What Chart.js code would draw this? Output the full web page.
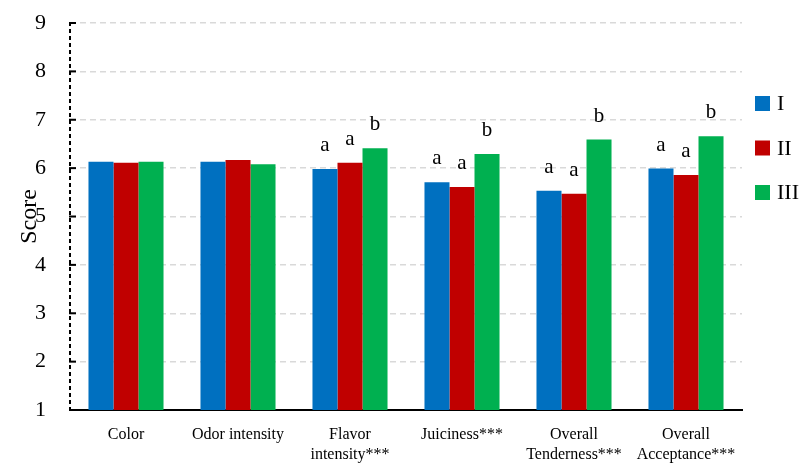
<!DOCTYPE html>
<html>
<head>
<meta charset="utf-8">
<script src="https://cdn.jsdelivr.net/npm/chart.js@4/dist/chart.umd.min.js"></script>
<style>
html,body{margin:0;padding:0;background:#fff;}
#wrap{width:800px;height:463px;}
</style>
</head>
<body>
<div id="wrap"><canvas id="c" width="800" height="463"></canvas></div>
<script>
const categories = ['Color', 'Odor intensity', ['Flavor', 'intensity***'], 'Juiciness***', ['Overall', 'Tenderness***'], ['Overall', 'Acceptance***']];
const seriesNames = ['I', 'II', 'III'];
const valuesI = [6.13, 6.13, 5.98, 5.71, 5.53, 5.99];
const valuesII = [6.11, 6.17, 6.11, 5.61, 5.47, 5.86];
const valuesIII = [6.13, 6.08, 6.41, 6.29, 6.59, 6.66];
const lettersI = ['', '', 'a', 'a', 'a', 'a'];
const lettersII = ['', '', 'a', 'a', 'a', 'a'];
const lettersIII = ['', '', 'b', 'b', 'b', 'b'];
const yTicks = [1, 2, 3, 4, 5, 6, 7, 8, 9];
const colors = ['#0070C0', '#C00000', '#00B050'];
const FONT = '"Liberation Serif", "DejaVu Serif", serif';

const lettersAll = [lettersI, lettersII, lettersIII];

const letterPlugin = {
  id: 'letters',
  afterDatasetsDraw(chart) {
    const ctx = chart.ctx;
    ctx.save();
    ctx.font = '21px ' + FONT;
    ctx.fillStyle = '#000';
    ctx.textAlign = 'center';
    ctx.textBaseline = 'alphabetic';
    chart.data.datasets.forEach((ds, di) => {
      const meta = chart.getDatasetMeta(di);
      meta.data.forEach((bar, i) => {
        const t = lettersAll[di][i];
        if (t) ctx.fillText(t, bar.x, bar.y - 18);
      });
    });
    ctx.restore();
  }
};

const axisPlugin = {
  id: 'innerTicks',
  afterDraw(chart) {
    const ctx = chart.ctx;
    const ys = chart.scales.y;
    const x0 = ys.right;
    ctx.save();
    ctx.strokeStyle = '#000';
    ctx.lineWidth = 2;
    ctx.setLineDash([4, 3]);
    ctx.beginPath();
    ctx.moveTo(x0, ys.getPixelForValue(yTicks[yTicks.length - 1]) - 1);
    ctx.lineTo(x0, ys.getPixelForValue(yTicks[0]));
    ctx.stroke();
    ctx.setLineDash([]);
    ys.ticks.forEach(t => {
      if (t.value === yTicks[0]) return;
      const y = ys.getPixelForValue(t.value);
      ctx.beginPath();
      ctx.moveTo(x0 - 1, y);
      ctx.lineTo(x0 + 6, y);
      ctx.stroke();
    });
    ctx.restore();
  }
};

const legendPlugin = {
  id: 'customLegend',
  afterDraw(chart) {
    const ctx = chart.ctx;
    ctx.save();
    ctx.font = '22px ' + FONT;
    ctx.textAlign = 'left';
    ctx.textBaseline = 'middle';
    chart.data.datasets.forEach((ds, i) => {
      const cy = 103.5 + i * 44.5;
      ctx.fillStyle = ds.backgroundColor;
      ctx.fillRect(755, cy - 7.5, 15, 15);
      ctx.fillStyle = '#000';
      ctx.fillText(ds.label, 777, cy + 1);
    });
    ctx.restore();
  }
};

new Chart(document.getElementById('c'), {
  type: 'bar',
  data: {
    labels: categories,
    datasets: [
      { label: seriesNames[0], data: valuesI, backgroundColor: colors[0] },
      { label: seriesNames[1], data: valuesII, backgroundColor: colors[1] },
      { label: seriesNames[2], data: valuesIII, backgroundColor: colors[2] }
    ]
  },
  options: {
    responsive: false,
    animation: false,
    devicePixelRatio: 1,
    layout: { padding: { top: 23, right: 58, left: 0, bottom: 0 } },
    datasets: { bar: { categoryPercentage: 0.67, barPercentage: 1.0 } },
    plugins: { legend: { display: false }, tooltip: { enabled: false } },
    scales: {
      x: {
        grid: { display: false, drawTicks: false },
        border: { display: true, color: '#000', width: 2 },
        ticks: { color: '#000', font: { family: FONT, size: 16, lineHeight: 1.25 }, padding: 15, maxRotation: 0, autoSkip: false },
        afterFit(s) { s.height = 53; }
      },
      y: {
        min: 1, max: 9,
        afterBuildTicks(s) { s.ticks = yTicks.map(v => ({ value: v })); },
        grid: { color: '#d9d9d9', lineWidth: 1.5, drawTicks: false, tickLength: 0 },
        border: { display: false, dash: [6, 4] },
        ticks: { color: '#000', font: { family: FONT, size: 22 }, padding: 24, stepSize: 1 },
        title: { display: true, text: 'Score', color: '#000', font: { family: FONT, size: 24 }, padding: { top: 15, bottom: 0 } },
        afterFit(s) { s.width = 70; s.paddingTop = 0; }
      }
    }
  },
  plugins: [letterPlugin, axisPlugin, legendPlugin]
});
</script>
</body>
</html>
